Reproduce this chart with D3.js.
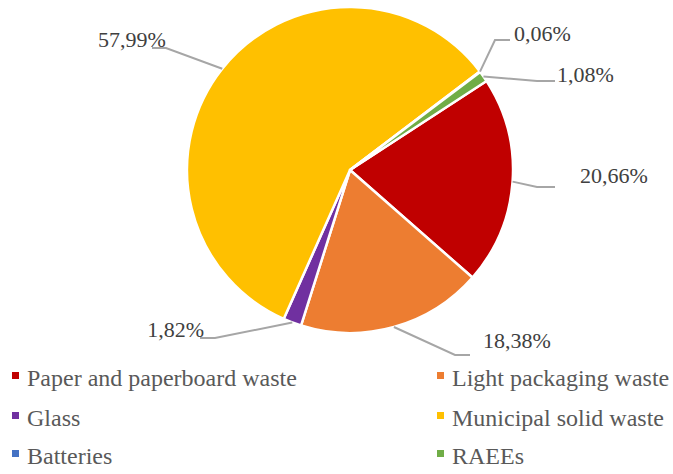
<!DOCTYPE html>
<html>
<head>
<meta charset="utf-8">
<script src="https://cdn.jsdelivr.net/npm/d3@7"></script>
<style>
  html, body { margin: 0; padding: 0; background: #fff; }
  svg { display: block; }
</style>
</head>
<body>
<svg id="chart" width="673" height="474"></svg>
<script>
// ---- data ----
const categories = ["Paper and paperboard waste", "Light packaging waste", "Glass", "Municipal solid waste", "Batteries", "RAEEs"];
const values = [20.66, 18.38, 1.82, 57.99, 0.06, 1.08];
const valueLabels = ["20,66%", "18,38%", "1,82%", "57,99%", "0,06%", "1,08%"];
const colors = ["#C00000", "#ED7D31", "#7030A0", "#FFC000", "#4472C4", "#70AD47"];

// ---- layout (annotation placement) ----
const labelLayout = [
  { elbow: [537, 187], endX: 555, tx: 580, ty: 183, anchor: "start" },
  { elbow: [455, 355], endX: 470, tx: 483, ty: 348, anchor: "start" },
  { elbow: [215, 338], endX: 200, tx: 204, ty: 337, anchor: "end" },
  { elbow: [166, 48],  endX: 152, tx: 98,  ty: 47,  anchor: "start" },
  { elbow: [495, 40],  endX: 510, tx: 514, ty: 41,  anchor: "start" },
  { elbow: [537, 81],  endX: 555, tx: 557, ty: 82,  anchor: "start" }
];
const legendPos = [
  { x: 12, y: 386 }, { x: 437, y: 386 },
  { x: 12, y: 426 }, { x: 437, y: 426 },
  { x: 12, y: 464 }, { x: 437, y: 464 }
];
const FONT = "Liberation Serif";

const cx = 350, cy = 170, R = 163;
const start = 56.9 * Math.PI / 180;

const svg = d3.select("#chart");
const g = svg.append("g").attr("transform", `translate(${cx},${cy})`);

const pie = d3.pie().sort(null).value(d => d.v).startAngle(start).endAngle(start + 2 * Math.PI);
const data = categories.map((c, i) => ({ c, v: values[i], i }));
const arcs = pie(data);
const arc = d3.arc().innerRadius(0).outerRadius(R);

g.selectAll("path.slice").data(arcs).enter().append("path")
  .attr("class", "slice")
  .attr("d", arc)
  .attr("fill", d => colors[d.data.i])
  .attr("stroke", "#fff")
  .attr("stroke-width", 2.5)
  .attr("stroke-linejoin", "round");

// leader lines + labels
arcs.forEach(d => {
  const i = d.data.i;
  const mid = (d.startAngle + d.endAngle) / 2;
  const ex = cx + R * Math.sin(mid), ey = cy - R * Math.cos(mid);
  const L = labelLayout[i];
  svg.append("polyline")
    .attr("points", `${ex},${ey} ${L.elbow[0]},${L.elbow[1]} ${L.endX},${L.elbow[1]}`)
    .attr("fill", "none")
    .attr("stroke", "#A6A6A6")
    .attr("stroke-width", 2);
  svg.append("text")
    .attr("x", L.tx).attr("y", L.ty)
    .attr("text-anchor", L.anchor)
    .attr("font-family", FONT)
    .attr("font-size", 22)
    .attr("fill", "#404040")
    .text(valueLabels[i]);
});

// legend
const lg = svg.append("g");
categories.forEach((c, i) => {
  const p = legendPos[i];
  lg.append("rect")
    .attr("x", p.x).attr("y", p.y - 14)
    .attr("width", 7).attr("height", 7)
    .attr("fill", colors[i]);
  lg.append("text")
    .attr("x", p.x + 15).attr("y", p.y)
    .attr("font-family", FONT)
    .attr("font-size", 24)
    .attr("fill", "#595959")
    .text(c);
});
</script>
</body>
</html>
